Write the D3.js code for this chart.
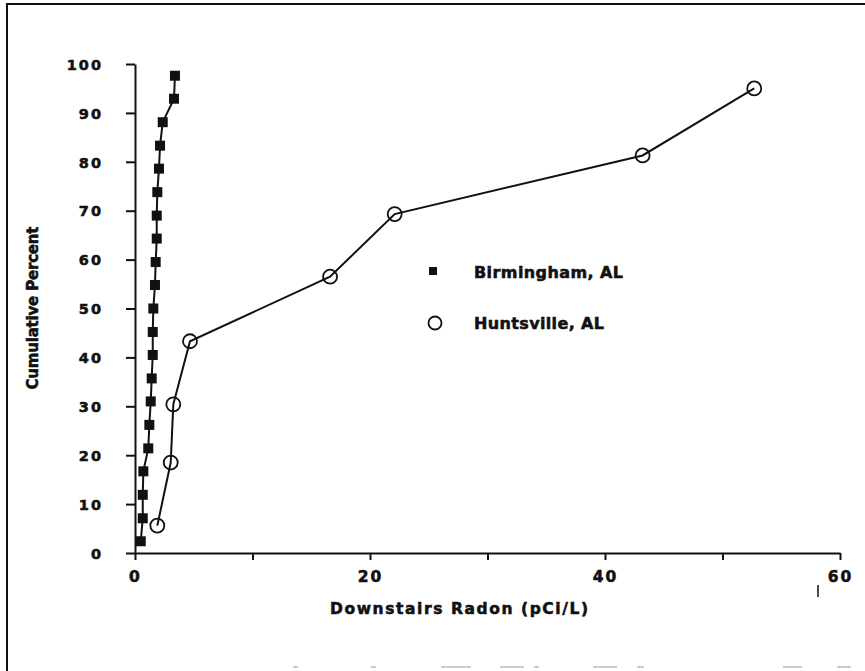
<!DOCTYPE html>
<html>
<head>
<meta charset="utf-8">
<script src="https://cdn.jsdelivr.net/npm/d3@7"></script>
<style>
  html, body { margin: 0; padding: 0; background: #fff; }
  svg { display: block; }
  text { font-family: "DejaVu Sans", "Liberation Sans", sans-serif; font-weight: bold; fill: #111;
         stroke: #111; stroke-width: 0.55px; }
</style>
</head>
<body>
<svg id="chart" width="865" height="671"></svg>
<script>
// ---- data ----
const birminghamX = [0.49, 0.66, 0.66, 0.71, 1.13, 1.22, 1.34, 1.42, 1.51, 1.51, 1.56, 1.70, 1.76, 1.85, 1.85, 1.90, 2.04, 2.13, 2.36, 3.32, 3.40];
const birminghamY = [2.4, 7.1, 11.9, 16.7, 21.4, 26.2, 31.0, 35.7, 40.5, 45.2, 50.0, 54.8, 59.5, 64.3, 69.0, 73.8, 78.6, 83.3, 88.1, 92.9, 97.6];
const huntsvilleX = [1.90, 3.04, 3.26, 4.68, 16.6, 22.1, 43.2, 52.7];
const huntsvilleY = [5.6, 18.5, 30.4, 43.3, 56.5, 69.3, 81.3, 95.0];
const seriesNames = ["Birmingham, AL", "Huntsville, AL"];
const xTicks = [0, 10, 20, 30, 40, 50, 60];
const xTickLabels = ["0", "", "20", "", "40", "", "60"];
const yTicks = [0, 10, 20, 30, 40, 50, 60, 70, 80, 90, 100];
const xTitle = "Downstairs Radon (pCi/L)";
const yTitle = "Cumulative Percent";

const svg = d3.select("#chart");
svg.append("rect").attr("width", 865).attr("height", 671).attr("fill", "#fff");

// page frame (scan border: top and left only)
svg.append("path").attr("d", "M7,671 L7,4 L865,4").attr("fill", "none")
  .attr("stroke", "#111").attr("stroke-width", 2);

const x = d3.scaleLinear().domain([0, 60]).range([135, 840]);
const y = d3.scaleLinear().domain([0, 100]).range([553, 64]);

// x axis
const gx = svg.append("g").attr("transform", `translate(0,${y(0)})`)
  .call(d3.axisBottom(x).tickValues(xTicks).tickSize(7).tickSizeOuter(0)
    .tickFormat((d, i) => xTickLabels[i]));
gx.select(".domain").attr("stroke", "#111").attr("stroke-width", 2);
gx.selectAll(".tick line").attr("stroke", "#111").attr("stroke-width", 2);
gx.selectAll(".tick text").attr("y", 29).attr("dy", 0)
  .style("font-size", "15.5px").style("letter-spacing", "2px").attr("fill", "#111")
  .attr("font-family", null);

// y axis
const gy = svg.append("g").attr("transform", `translate(${x(0)},0)`)
  .call(d3.axisLeft(y).tickValues(yTicks).tickSize(9).tickSizeOuter(0).tickPadding(23));
gy.select(".domain").attr("stroke", "#111").attr("stroke-width", 2);
gy.selectAll(".tick line").attr("stroke", "#111").attr("stroke-width", 2);
gy.selectAll(".tick text").attr("dy", "0.36em")
  .style("font-size", "14.5px").style("letter-spacing", "2px").attr("fill", "#111")
  .attr("font-family", null);

// titles
svg.append("text").attr("x", 459).attr("y", 614).attr("text-anchor", "middle")
  .style("font-size", "15.5px").attr("textLength", 258).attr("lengthAdjust", "spacing")
  .text(xTitle);
svg.append("text").attr("transform", "translate(38,308) rotate(-90)").attr("text-anchor", "middle")
  .style("font-size", "15px").attr("textLength", 163).attr("lengthAdjust", "spacing")
  .text(yTitle);

// lines
const line = d3.line().x(d => x(d[0])).y(d => y(d[1]));
const bData = birminghamX.map((v, i) => [v, birminghamY[i]]);
const hData = huntsvilleX.map((v, i) => [v, huntsvilleY[i]]);

svg.append("path").datum(bData).attr("d", line).attr("fill", "none")
  .attr("stroke", "#111").attr("stroke-width", 2);
svg.append("path").datum(hData).attr("d", line).attr("fill", "none")
  .attr("stroke", "#111").attr("stroke-width", 2);

svg.append("g").selectAll("rect").data(bData).join("rect")
  .attr("x", d => x(d[0]) - 5).attr("y", d => y(d[1]) - 5)
  .attr("width", 10).attr("height", 10).attr("fill", "#111");
svg.append("g").selectAll("circle").data(hData).join("circle")
  .attr("cx", d => x(d[0])).attr("cy", d => y(d[1])).attr("r", 7)
  .attr("fill", "none").attr("stroke", "#111").attr("stroke-width", 1.8);

// legend
svg.append("rect").attr("x", 429).attr("y", 267).attr("width", 8).attr("height", 8).attr("fill", "#111");
svg.append("text").attr("x", 474).attr("y", 278).style("font-size", "16px")
  .attr("textLength", 149).attr("lengthAdjust", "spacing").text(seriesNames[0]);
svg.append("circle").attr("cx", 435).attr("cy", 323).attr("r", 6.5)
  .attr("fill", "none").attr("stroke", "#111").attr("stroke-width", 1.8);
svg.append("text").attr("x", 474).attr("y", 329).style("font-size", "16px")
  .attr("textLength", 130).attr("lengthAdjust", "spacing").text(seriesNames[1]);

// stray scan marks
svg.append("line").attr("x1", 818).attr("x2", 818).attr("y1", 585).attr("y2", 597)
  .attr("stroke", "#111").attr("stroke-width", 1.5);
const faint = [[293, 298], [371, 376], [441, 471], [500, 524], [534, 539], [593, 617], [637, 644], [783, 802], [837, 851]];
svg.append("g").selectAll("line").data(faint).join("line")
  .attr("x1", d => d[0]).attr("x2", d => d[1]).attr("y1", 667).attr("y2", 667)
  .attr("stroke", "#bbb").attr("stroke-width", 1.5);
</script>
</body>
</html>
